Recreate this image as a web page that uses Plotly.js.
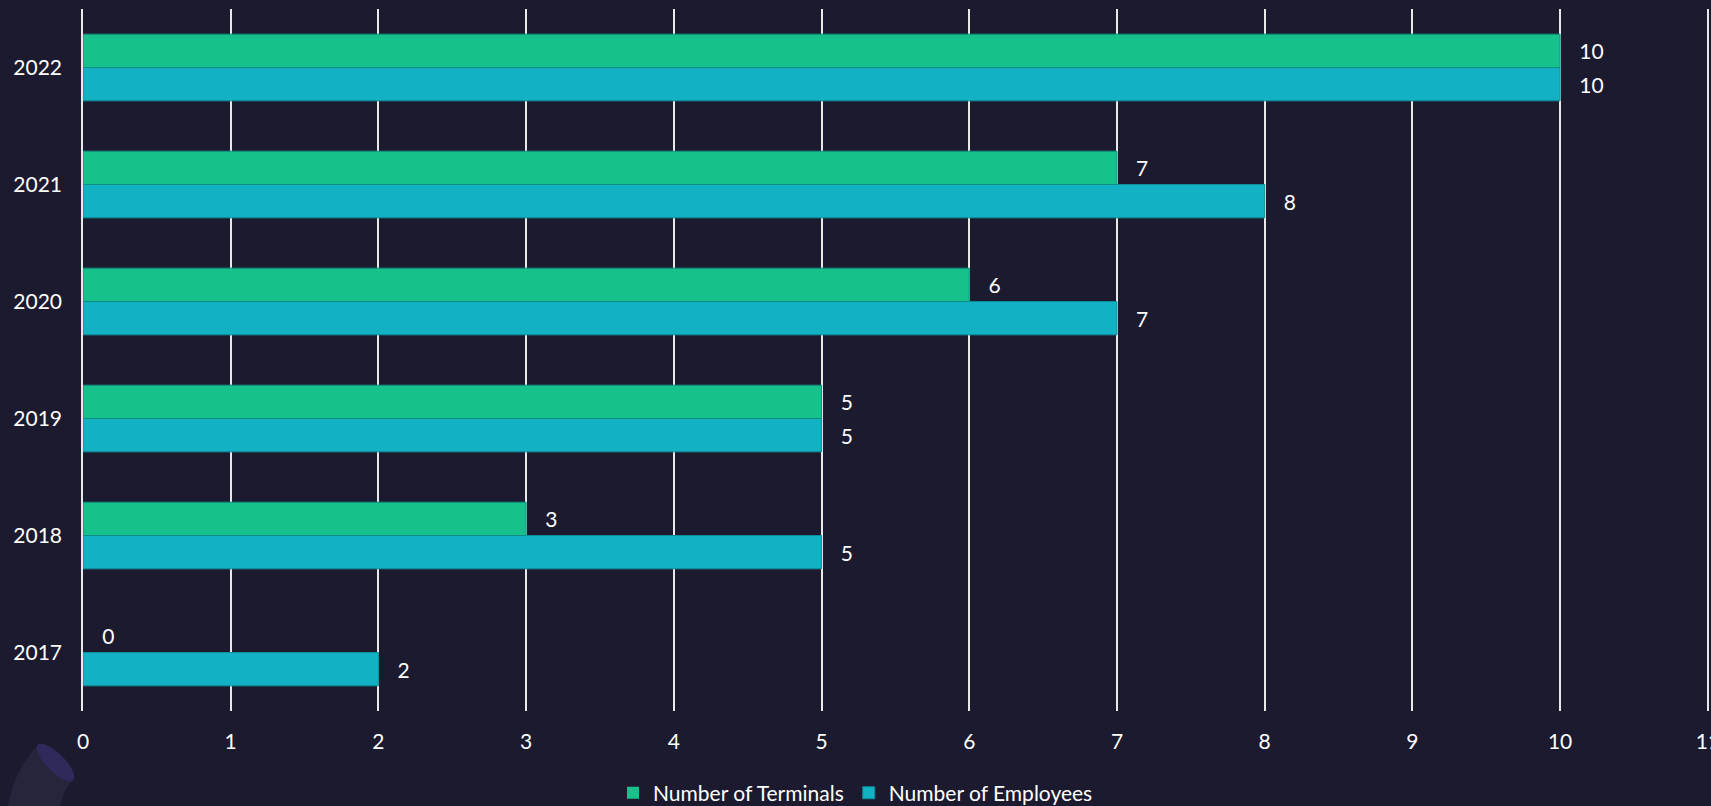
<!DOCTYPE html>
<html>
<head>
<meta charset="utf-8">
<script src="https://cdn.plot.ly/plotly-3.0.1.min.js"></script>
<style>
  html, body { margin: 0; padding: 0; background: #1C1A2E; }
  #chart { width: 1711px; height: 806px; }
</style>
</head>
<body>
<div id="chart"></div>
<script>
const years = ['2017', '2018', '2019', '2020', '2021', '2022'];
const terminals = [0, 3, 5, 6, 7, 10];
const employees = [2, 5, 5, 7, 8, 10];
const xTicks = [0, 1, 2, 3, 4, 5, 6, 7, 8, 9, 10, 11];

const W = 1711, H = 806;
const M = { l: 83, r: 2, t: 9, b: 95 };
const PW = W - M.l - M.r, PH = H - M.t - M.b;
function px(x) { return ((x - M.l) / PW).toFixed(5); }
function py(y) { return ((H - M.b - y) / PH).toFixed(5); }

// decorative tube, bottom-left
function ellipsePath(cx, cy, a, b, ang) {
  let d = '';
  const n = 40, r = ang * Math.PI / 180;
  for (let i = 0; i <= n; i++) {
    const t = 2 * Math.PI * i / n;
    const ex = a * Math.cos(t), ey = b * Math.sin(t);
    const X = cx + ex * Math.cos(r) - ey * Math.sin(r);
    const Y = cy + ex * Math.sin(r) + ey * Math.cos(r);
    d += (i === 0 ? 'M' : 'L') + px(X) + ',' + py(Y);
  }
  return d + 'Z';
}
const bodyPath = 'M' + px(38) + ',' + py(745) +
  ' Q' + px(14) + ',' + py(770) + ' ' + px(8) + ',' + py(806) +
  ' L' + px(60) + ',' + py(806) +
  ' Q' + px(62) + ',' + py(792) + ' ' + px(73) + ',' + py(780) + ' Z';

const cText = '#FFFFFF';
const fontFam = 'Lato, "Open Sans", sans-serif';
const pad = '\u00a0\u00a0\u00a0';

function barTrace(name, vals, color, lineColor) {
  return {
    type: 'bar', orientation: 'h', name: name,
    y: years, x: vals,
    marker: { color: color, line: { color: lineColor, width: vals.map(v => v === 0 ? 0 : 1) } },
    text: vals.map(String),
    texttemplate: pad + '%{text}',
    textposition: 'outside',
    textangle: 0,
    constraintext: 'none',
    cliponaxis: false,
    textfont: { color: cText, size: 21, family: fontFam },
    hoverinfo: 'x'
  };
}

const traces = [
  barTrace('Number of Employees', employees, '#12B1C3', '#0E8E98'),
  barTrace('Number of Terminals', terminals, '#16C18B', '#0E8E82')
];

const gridColor = '#E8E8E8';

const layout = {
  width: W, height: H,
  margin: Object.assign({ autoexpand: false }, M),
  paper_bgcolor: '#1C1A2E',
  plot_bgcolor: '#1C1A2E',
  font: { family: fontFam, color: cText, size: 21 },
  barmode: 'group',
  bargap: 0.43,
  bargroupgap: 0,
  showlegend: true,
  legend: {
    orientation: 'h', traceorder: 'reversed',
    xref: 'container', yref: 'container',
    x: 0.5, xanchor: 'center', y: 0.016, yanchor: 'middle',
    font: { size: 21, color: cText, family: fontFam },
    itemwidth: 30, tracegroupgap: 0,
    bgcolor: 'rgba(0,0,0,0)'
  },
  xaxis: {
    range: [0, 11.008],
    tickvals: xTicks,
    ticktext: xTicks.map(String),
    showgrid: true, gridcolor: gridColor, gridwidth: 1.5,
    zeroline: false, showline: false,
    ticks: 'outside', ticklen: 12, tickcolor: 'rgba(0,0,0,0)',
    ticklabeloverflow: 'allow',
    tickfont: { size: 21, color: cText, family: fontFam },
    automargin: false,
    fixedrange: true
  },
  yaxis: {
    type: 'category',
    categoryorder: 'array', categoryarray: years,
    range: [-0.5, 5.5],
    showgrid: false, zeroline: false, showline: true,
    linecolor: gridColor, linewidth: 1.5,
    ticks: 'outside', ticklen: 15, tickcolor: 'rgba(0,0,0,0)',
    tickfont: { size: 21, color: cText, family: fontFam },
    automargin: false,
    fixedrange: true
  },
  shapes: [
    { type: 'path', xref: 'paper', yref: 'paper', path: bodyPath,
      fillcolor: '#25263B', line: { width: 0 }, layer: 'below' },
    { type: 'path', xref: 'paper', yref: 'paper', path: ellipsePath(55.5, 762.5, 25, 9, 45),
      fillcolor: '#2E2A5C', line: { width: 0 }, layer: 'below' },
    { type: 'line', xref: 'x', yref: 'paper', x0: xTicks[xTicks.length - 1], x1: xTicks[xTicks.length - 1],
      y0: 0, y1: 1, line: { color: gridColor, width: 1.5 }, layer: 'below' }
  ]
};

Plotly.newPlot('chart', traces, layout, { displayModeBar: false });
</script>
</body>
</html>
